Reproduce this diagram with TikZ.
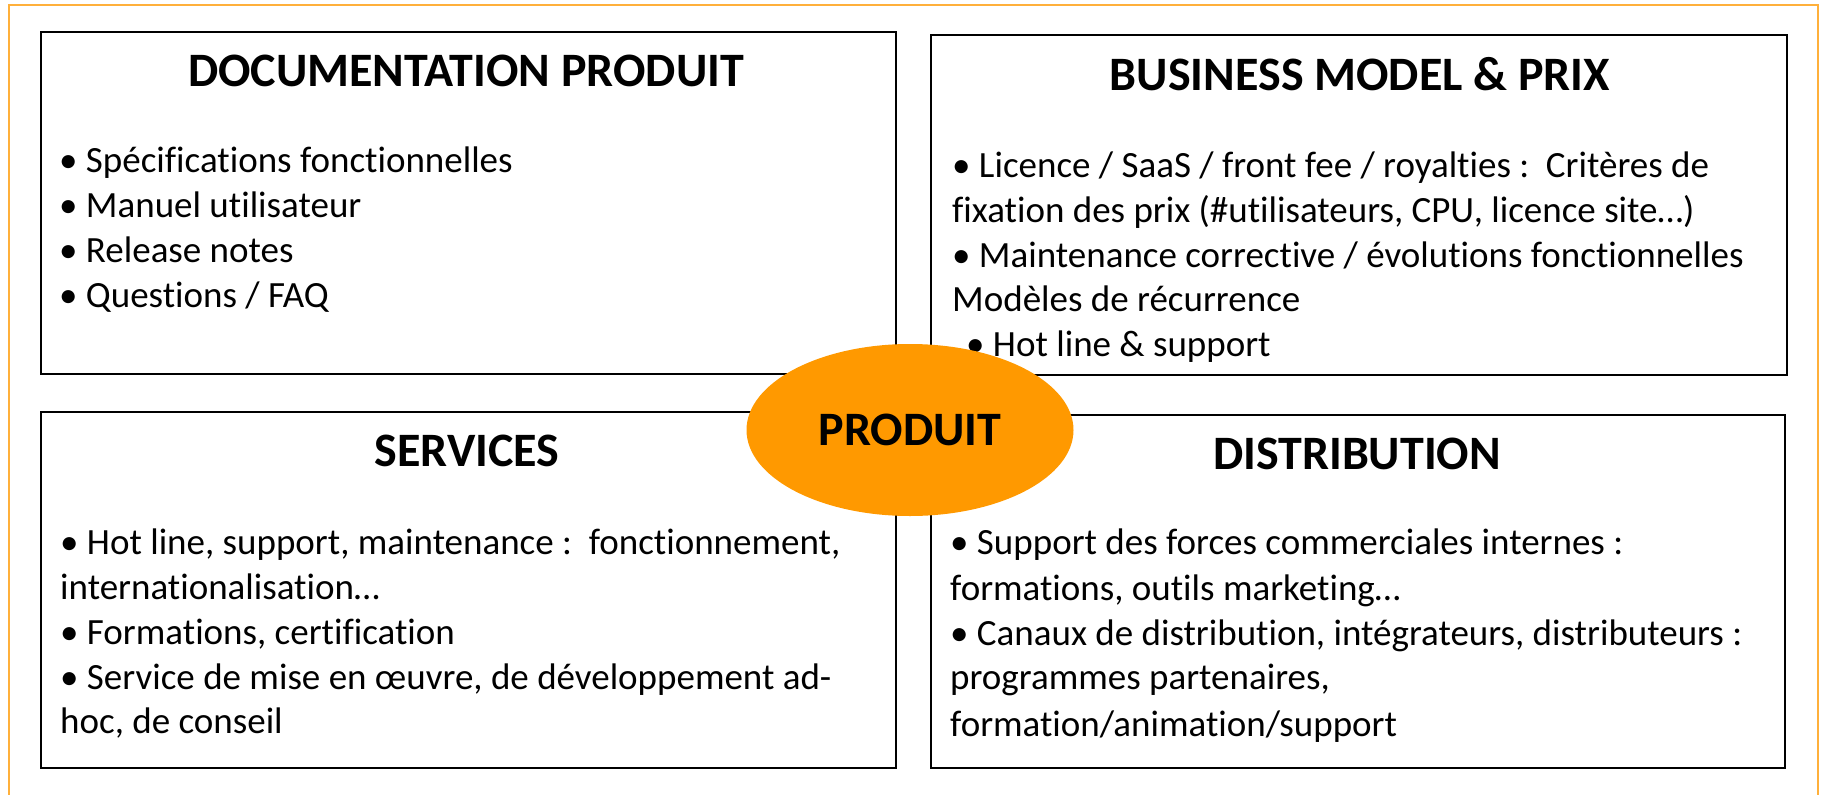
\documentclass[tikz,border=0pt]{standalone}
\usepackage{fontspec}
\setmainfont[Ligatures={NoCommon,NoRare}]{Carlito}
\usetikzlibrary{shapes.geometric}
\definecolor{frameorange}{HTML}{FFB03B}
\definecolor{hub}{HTML}{FF9900}
\begin{document}
\begin{tikzpicture}[x=1pt,y=-1pt,
  box/.style={draw=black, line width=2pt, inner sep=0pt, anchor=north west},
  ttl/.style={font=\fontsize{48}{57}\selectfont\bfseries, anchor=base, inner sep=0pt},
  txt/.style={font=\fontsize{37}{45}\selectfont, anchor=base west, inner sep=0pt}]
\useasboundingbox (0,0) rectangle (1821,795);
% outer frame
\draw[frameorange, line width=2pt] (9,5) rectangle (1818,805);

% four quadrants
\node[box, minimum width=855, minimum height=342] (doc) at (40,31) {};
\node[box, minimum width=856, minimum height=340] (biz) at (930,34) {};
\node[box, minimum width=855, minimum height=356] (srv) at (40,411) {};
\node[box, minimum width=854, minimum height=353] (dist) at (930,414) {};

% documentation
\node[ttl] (docT) at (466,86) {DOCUMENTATION PRODUIT};
\node[txt] (d1) at (59,172) {• Spécifications fonctionnelles};
\node[txt] (d2) at (59,217) {• Manuel utilisateur};
\node[txt] (d3) at (59,262) {• Release notes};
\node[txt] (d4) at (59,307) {• Questions / FAQ};

% business model
\node[ttl] (bizT) at (1360,90) {BUSINESS MODEL \& PRIX};
\node[txt] (b1) at (952,177) {• Licence / SaaS / front fee / royalties :\ \ Critères de};
\node[txt] (b2) at (952,222) {fixation des prix (\#utilisateurs, CPU, licence site…)};
\node[txt] (b3) at (952,267) {• Maintenance corrective / évolutions fonctionnelles};
\node[txt] (b4) at (952,311) {Modèles de récurrence};
\node[txt] (b5) at (966,356) {• Hot line \& support};

% services
\node[ttl] (srvT) at (467,466) {SERVICES};
\node[txt] (s1) at (60,554) {• Hot line, support, maintenance :\ \ fonctionnement,};
\node[txt] (s2) at (60,599) {internationalisation…};
\node[txt] (s3) at (60,644) {• Formations, certification};
\node[txt] (s4) at (60,689) {• Service de mise en œuvre, de développement ad-};
\node[txt] (s5) at (60,733) {hoc, de conseil};

% distribution
\node[ttl] (distT) at (1357,469) {DISTRIBUTION};
\node[txt] (t1) at (950,554) {• Support des forces commerciales internes :};
\node[txt] (t2) at (950,600) {formations, outils marketing…};
\node[txt] (t3) at (950,645) {• Canaux de distribution, intégrateurs, distributeurs :};
\node[txt] (t4) at (950,689) {programmes partenaires,};
\node[txt] (t5) at (950,736) {formation/animation/support};

% central hub
\node[ellipse, fill=hub, minimum width=327, minimum height=172, inner sep=0pt,
      font=\fontsize{48}{57}\selectfont\bfseries] (prod) at (910,430) {\raisebox{-3pt}{PRODUIT}};
\end{tikzpicture}
\end{document}
